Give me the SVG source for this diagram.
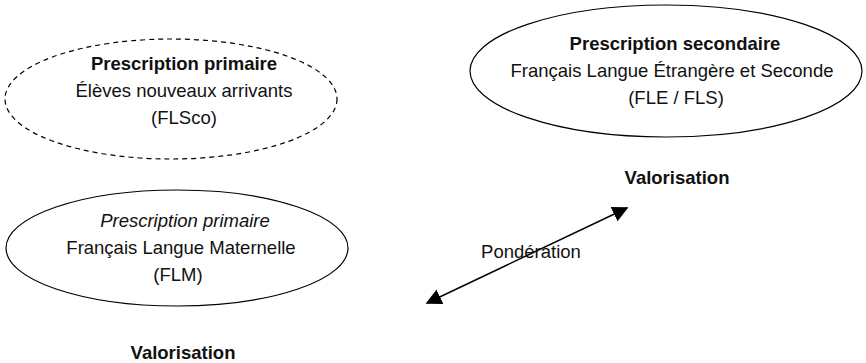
<svg xmlns="http://www.w3.org/2000/svg" width="866" height="363" viewBox="0 0 866 363">
<style>
  text { font-family: "Liberation Sans", Arial, sans-serif; font-size: 18.5px; fill: #111; text-anchor: middle; }
  .b { font-weight: bold; }
  .i { font-style: italic; }
  .node { fill: #fff; stroke: #000; stroke-width: 1.2; }
  .dash { stroke-dasharray: 5 4; }
  .conn { stroke: #000; stroke-width: 1.5; fill: none; }
</style>
<defs>
  <marker id="ahb" viewBox="0 0 10 10" refX="9" refY="5" markerWidth="16" markerHeight="16" markerUnits="userSpaceOnUse" orient="auto-start-reverse">
    <path d="M0,0 L10,5 L0,10 z" fill="#000"/>
  </marker>
</defs>
<rect width="866" height="363" fill="#fff"/>
<g id="flsco">
  <ellipse class="node dash" cx="171" cy="99" rx="166" ry="60"/>
  <text class="b" x="184" y="70">Prescription primaire</text>
  <text x="184" y="97">Élèves nouveaux arrivants</text>
  <text x="184" y="124">(FLSco)</text>
</g>
<g id="fle-fls">
  <ellipse class="node" cx="666" cy="71" rx="196" ry="66"/>
  <text class="b" x="675" y="50">Prescription secondaire</text>
  <text x="672" y="77">Français Langue Étrangère et Seconde</text>
  <text x="676" y="104">(FLE / FLS)</text>
</g>
<g id="flm">
  <ellipse class="node" cx="177" cy="248" rx="171" ry="58"/>
  <text class="i" x="185" y="227">Prescription primaire</text>
  <text x="181" y="254">Français Langue Maternelle</text>
  <text x="178" y="281">(FLM)</text>
</g>
<g id="valorisation-top">
  <text class="b" x="677" y="184">Valorisation</text>
</g>
<g id="valorisation-bottom">
  <text class="b" x="183" y="359">Valorisation</text>
</g>
<g id="connectors">
  <line class="conn" x1="427" y1="303" x2="627" y2="208" marker-start="url(#ahb)" marker-end="url(#ahb)"/>
  <text x="531" y="258">Pondération</text>
</g>
</svg>
